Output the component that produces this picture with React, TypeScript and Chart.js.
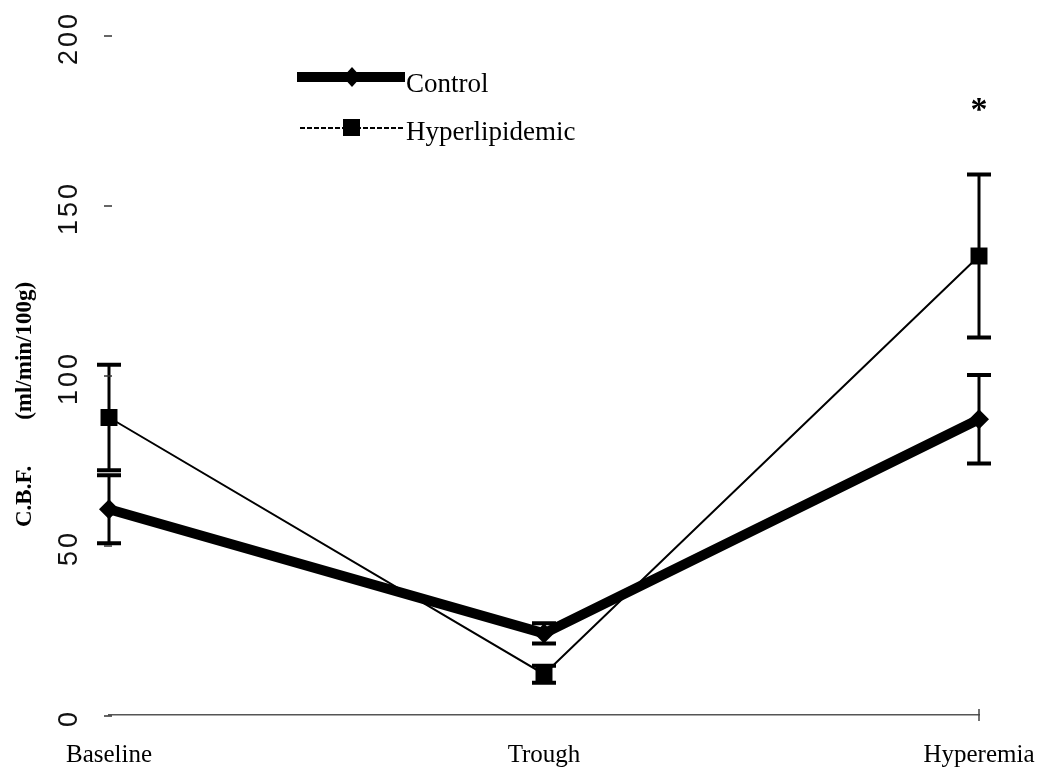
import React, { useEffect, useRef } from "react";
import { Chart, registerables } from "chart.js";

Chart.register(...registerables);

const categories = ["Baseline", "Trough", "Hyperemia"];
const controlValues = [60.5, 24, 87];
const controlErrors = [10, 3, 13];
const hyperValues = [87.5, 12, 135];
const hyperErrors = [15.5, 2.5, 24];
const significanceMarks = ["", "", "*"];
const yTickValues = [0, 50, 100, 150, 200];
const seriesNames = ["Control", "Hyperlipidemic"];
const yAxisTitle = "C.B.F.        (ml/min/100g)";

export default function App() {
  const ref = useRef<HTMLCanvasElement>(null);

  useEffect(() => {
    const canvas = ref.current as HTMLCanvasElement;
    const valuesByDataset = [controlValues, hyperValues];
    const errorsByDataset = [controlErrors, hyperErrors];

    const errorBars = {
      id: "errorBars",
      beforeDatasetsDraw(chart: any) {
        const ctx = chart.ctx;
        const y = chart.scales.y;
        ctx.save();
        ctx.strokeStyle = "#000";
        for (let d = 0; d < valuesByDataset.length; d++) {
          const meta = chart.getDatasetMeta(d);
          meta.data.forEach((pt: any, j: number) => {
            const v = valuesByDataset[d][j];
            const e = errorsByDataset[d][j];
            const top = y.getPixelForValue(v + e);
            const bot = y.getPixelForValue(v - e);
            ctx.lineWidth = 3;
            ctx.beginPath();
            ctx.moveTo(pt.x, top);
            ctx.lineTo(pt.x, bot);
            ctx.stroke();
            ctx.lineWidth = 4;
            ctx.beginPath();
            ctx.moveTo(pt.x - 12, top);
            ctx.lineTo(pt.x + 12, top);
            ctx.moveTo(pt.x - 12, bot);
            ctx.lineTo(pt.x + 12, bot);
            ctx.stroke();
          });
        }
        ctx.restore();
      },
    };

    const decorations = {
      id: "decorations",
      afterDraw(chart: any) {
        const ctx = chart.ctx;
        const y = chart.scales.y;
        const x = chart.scales.x;
        const area = chart.chartArea;
        ctx.save();

        // y ticks and rotated labels
        ctx.strokeStyle = "#333";
        ctx.lineWidth = 1.5;
        ctx.fillStyle = "#111";
        ctx.font = "27px 'Liberation Sans', Arial, sans-serif";
        (ctx as any).letterSpacing = "3px";
        yTickValues.forEach((v) => {
          const py = y.getPixelForValue(v);
          ctx.beginPath();
          ctx.moveTo(area.left - 5, py + 1);
          ctx.lineTo(area.left + 3, py + 1);
          ctx.stroke();
          ctx.save();
          ctx.translate(70, py + 3);
          ctx.rotate(-Math.PI / 2);
          ctx.textAlign = "center";
          ctx.textBaseline = "middle";
          ctx.fillText(String(v), 0, 0);
          ctx.restore();
        });
        (ctx as any).letterSpacing = "0px";

        // y title
        ctx.save();
        ctx.translate(25, 527);
        ctx.rotate(-Math.PI / 2);
        ctx.font = "bold 23px 'Liberation Serif', 'Times New Roman', serif";
        ctx.fillStyle = "#000";
        ctx.textAlign = "left";
        ctx.textBaseline = "middle";
        ctx.fillText(yAxisTitle, 0, 0);
        ctx.restore();

        // x axis end tick
        ctx.strokeStyle = "#444";
        ctx.lineWidth = 1.5;
        ctx.beginPath();
        ctx.moveTo(area.right, area.bottom - 6);
        ctx.lineTo(area.right, area.bottom + 6);
        ctx.stroke();

        // significance marks
        ctx.fillStyle = "#000";
        ctx.font = "bold 34px 'Liberation Serif', 'Times New Roman', serif";
        ctx.textAlign = "center";
        ctx.textBaseline = "middle";
        significanceMarks.forEach((m, j) => {
          if (!m) return;
          const px = x.getPixelForValue(j);
          const py = y.getPixelForValue(hyperValues[j] + hyperErrors[j] + 20) + 5;
          ctx.fillText(m, px, py);
        });

        // legend
        ctx.font = "27px 'Liberation Serif', 'Times New Roman', serif";
        ctx.textAlign = "left";
        ctx.textBaseline = "alphabetic";
        // Control
        ctx.strokeStyle = "#000";
        ctx.lineWidth = 10;
        ctx.beginPath();
        ctx.moveTo(297, 77);
        ctx.lineTo(405, 77);
        ctx.stroke();
        ctx.beginPath();
        ctx.moveTo(352, 67);
        ctx.lineTo(361, 77);
        ctx.lineTo(352, 87);
        ctx.lineTo(343, 77);
        ctx.closePath();
        ctx.fill();
        ctx.fillText(seriesNames[0], 406, 92);
        // Hyperlipidemic
        ctx.lineWidth = 2;
        ctx.setLineDash([5, 2]);
        ctx.beginPath();
        ctx.moveTo(300, 128);
        ctx.lineTo(405, 128);
        ctx.stroke();
        ctx.setLineDash([]);
        ctx.fillRect(343, 119, 17, 17);
        ctx.fillText(seriesNames[1], 406, 140);

        ctx.restore();
      },
    };

    const chart = new Chart(canvas, {
      type: "line",
      data: {
        labels: categories,
        datasets: [
          {
            label: seriesNames[0],
            data: controlValues,
            borderColor: "#000",
            backgroundColor: "#000",
            borderWidth: 10,
            pointStyle: "rectRot",
            pointRadius: 10,
            pointBackgroundColor: "#000",
            pointBorderWidth: 0,
            tension: 0,
          },
          {
            label: seriesNames[1],
            data: hyperValues,
            borderColor: "#000",
            backgroundColor: "#000",
            borderWidth: 2,
            pointStyle: "rect",
            pointRadius: 12,
            pointBackgroundColor: "#000",
            pointBorderWidth: 0,
            tension: 0,
          },
        ],
      },
      options: {
        responsive: false,
        animation: false,
        devicePixelRatio: 1,
        layout: { padding: { left: 109, right: 63, top: 35, bottom: 3 } },
        plugins: { legend: { display: false }, tooltip: { enabled: false } },
        scales: {
          x: {
            type: "category",
            offset: false,
            grid: { display: false, drawTicks: false },
            border: { display: true, color: "#555", width: 1.5 },
            ticks: {
              color: "#000",
              padding: 25,
              maxRotation: 0,
              font: { family: "'Liberation Serif', 'Times New Roman', serif", size: 25 },
            },
            afterFit(scale: any) {
              scale.height = 55;
              scale.paddingLeft = 0;
              scale.paddingRight = 0;
            },
          },
          y: {
            display: false,
            min: 0,
            max: 200,
          },
        },
      },
      plugins: [errorBars, decorations],
    });

    return () => chart.destroy();
  }, []);

  return (
    <div style={{ position: "fixed", left: 0, top: 0, width: 1042, height: 773, background: "#fff" }}>
      <canvas ref={ref} width={1042} height={773} style={{ width: 1042, height: 773, display: "block" }} />
    </div>
  );
}
